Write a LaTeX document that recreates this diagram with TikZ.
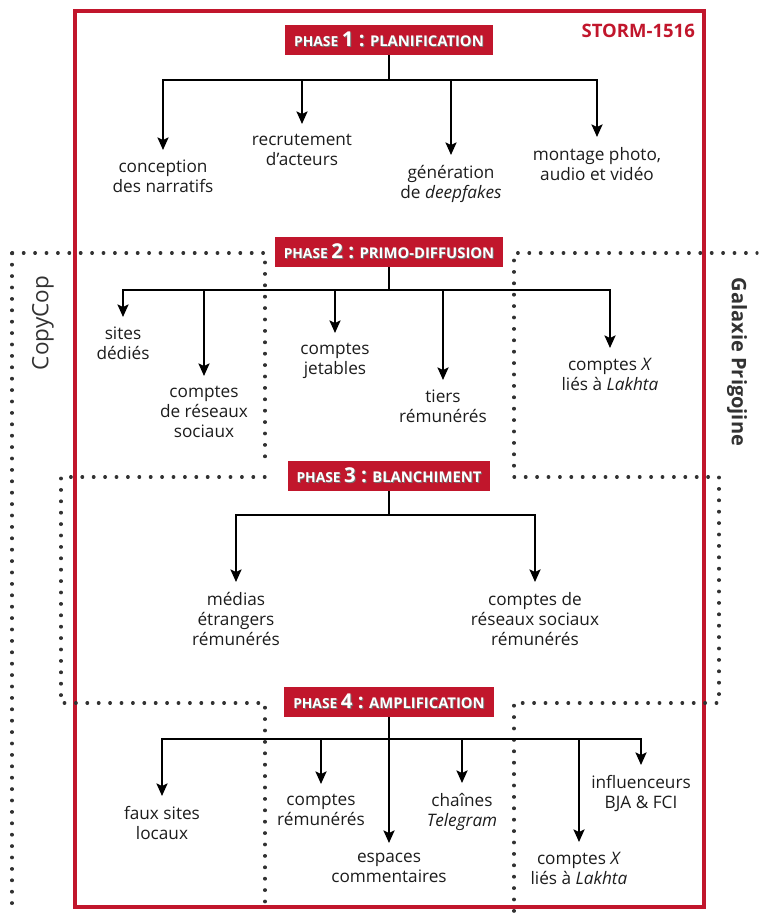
\documentclass[tikz,border=0pt]{standalone}
\usepackage{fontspec}
\setmainfont{Open Sans}
\usetikzlibrary{arrows.meta}
\definecolor{stormred}{RGB}{193,22,44}
\definecolor{inkgray}{RGB}{28,28,28}
\definecolor{dotgray}{RGB}{50,50,50}
\newcommand{\shadowed}[1]{\leavevmode\rlap{\kern0.9pt\raisebox{-0.9pt}{\color{black!55}#1}}#1}
\newcommand{\phasetitle}[2]{\shadowed{\fontsize{13.8}{14}\selectfont PHASE~\fontsize{20.5}{20}\selectfont #1~:~\fontsize{14.8}{16}\selectfont #2}}

\begin{document}
\begin{tikzpicture}[x=1pt, y=-1pt, font=\fontsize{17.2}{20}\selectfont,
  phase/.style={fill=stormred, text=white, font=\bfseries, minimum height=30pt, inner xsep=9pt, inner ysep=0pt},
  item/.style={align=center, anchor=north, inner xsep=0pt, inner ysep=10pt, text=inkgray},
  arr/.style={-{Stealth[length=12.5pt,width=11pt,inset=2.5pt]}, line width=2.2pt},
  zone/.style={dotgray, line width=3.2pt, line cap=round, dash pattern=on 0.6pt off 10.8pt}]
\useasboundingbox (0,0) rectangle (759,915);

% cadre STORM-1516
\draw[stormred, line width=4pt] (74.5,11.5) rectangle (703.5,907);
\node[text=stormred, font=\bfseries\fontsize{18.5}{20}\selectfont, anchor=east, inner sep=0pt] (storm) at (695,31) {STORM-1516};

% zones en pointilles
\draw[zone] (12,253) -- (12,912);
\draw[zone] (12,253) -- (265,253) -- (265,466);
\draw[zone] (514,466) -- (514,253) -- (757,253);
\draw[zone] (265,477) -- (61,477) -- (61,703) -- (265,703) -- (265,912);
\draw[zone] (514,477) -- (719,477) -- (719,703) -- (514,703) -- (514,912);
\node[rotate=90, text=dotgray, font=\fontsize{22.5}{24}\selectfont] (copy) at (43,323) {CopyCop};
\node[rotate=-90, text=dotgray, font=\bfseries\fontsize{20}{24}\selectfont] (galx) at (737,362) {Galaxie Prigojine};

% phase 1
\node[phase] (p1) at (389,40) {\phasetitle{1}{PLANIFICATION}};
\coordinate (b1) at (389,80);
\node[item] (conc) at (163,150) {conception\\des narratifs};
\node[item] (recr) at (302,124) {recrutement\\d’acteurs};
\node[item] (gene) at (451,155) {génération\\de \textit{deepfakes}};
\node[item] (mont) at (597,137) {montage photo,\\audio et vidéo};
\foreach \c in {conc,recr,gene,mont}
  \draw[arr] (p1.south) -- (b1) -| (\c.north);

% phase 2
\node[phase] (p2) at (389,252) {\phasetitle{2}{PRIMO-DIFFUSION}};
\coordinate (b2) at (389,290);
\node[item] (sites) at (123,317) {sites\\dédiés};
\node[item] (resx) at (204,376) {comptes\\de réseaux\\sociaux};
\node[item] (jeta) at (335,333) {comptes\\jetables};
\node[item] (tiers) at (443,380) {tiers\\rémunérés};
\node[item] (lakA) at (610,348) {comptes \textit{X}\\liés à \textit{Lakhta}};
\foreach \c in {sites,resx,jeta,tiers,lakA}
  \draw[arr] (p2.south) -- (b2) -| (\c.north);

% phase 3
\node[phase] (p3) at (389,476) {\phasetitle{3}{BLANCHIMENT}};
\coordinate (b3) at (389,515);
\node[item] (medi) at (236,582) {médias\\étrangers\\rémunérés};
\node[item] (resR) at (535,582) {comptes de\\réseaux sociaux\\rémunérés};
\foreach \c in {medi,resR}
  \draw[arr] (p3.south) -- (b3) -| (\c.north);

% phase 4
\node[phase] (p4) at (389,702) {\phasetitle{4}{AMPLIFICATION}};
\coordinate (b4) at (389,739);
\node[item] (faux) at (162,796) {faux sites\\locaux};
\node[item] (crem) at (321,784) {comptes\\rémunérés};
\node[item] (espa) at (389,843) {espaces\\commentaires};
\node[item] (tele) at (462,783) {chaînes\\\textit{Telegram}};
\node[item] (lakB) at (579,842) {comptes \textit{X}\\liés à \textit{Lakhta}};
\node[item] (infl) at (641,765) {influenceurs\\BJA \& FCI};
\foreach \c in {faux,crem,espa,tele,lakB,infl}
  \draw[arr] (p4.south) -- (b4) -| (\c.north);
\end{tikzpicture}
\end{document}
